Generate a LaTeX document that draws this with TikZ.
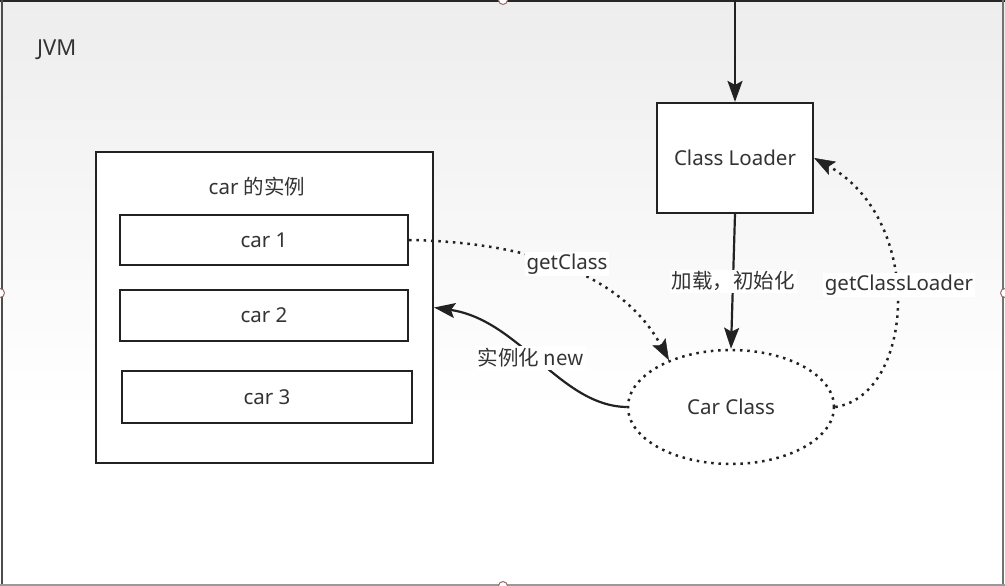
\documentclass[tikz,border=0pt]{standalone}
\usepackage{fontspec}
\setmainfont{Noto Sans}
\newfontfamily\cjk{Noto Sans CJK SC}
\usetikzlibrary{arrows.meta,shapes.geometric}
\definecolor{ink}{HTML}{222222}
\definecolor{txt}{HTML}{333333}
\definecolor{handlec}{HTML}{A06A6A}
\tikzset{
  box/.style={draw=ink, line width=2.2pt, fill=white, inner sep=0pt, text=txt, font=\fontsize{20.5}{23}\selectfont},
  lbl/.style={text=txt, font=\fontsize{20.5}{23}\selectfont, inner sep=2pt},
  dotline/.style={draw=ink, line width=2.5pt, dash pattern=on 2.5pt off 4.8pt},
  solidarrow/.style={draw=ink, line width=2.2pt, -{Stealth[length=21pt,width=15pt,inset=4pt]}},
  dotarrow/.style={dotline, -{Stealth[length=21pt,width=15pt,inset=4pt,line width=0.5pt,sep=0pt]}},
  handle/.style={draw=handlec, fill=white, line width=1pt}
}
\begin{document}
\begin{tikzpicture}[x=1pt,y=-1pt]
\useasboundingbox (0,0) rectangle (1005,586);
\fill[white] (0,0) rectangle (1005,586);
\foreach \i in {0,...,39} {
  \pgfmathsetmacro\p{7*(1-\i/40)}
  \fill[black!\p] (0,\i*10) rectangle (1005,\i*10+10.5);
}
% frame
\draw[black!85, line width=2.2pt] (0,1) -- (1005,1);
\draw[black!70, line width=2pt] (1.5,0) -- (1.5,586);
\draw[black!55, line width=2pt] (1003,0) -- (1003,586);
\draw[black!40, line width=2pt] (0,585) -- (1005,585);
% handles
\draw[handle] (503,0) circle (4.5);
\draw[handle] (0,293) circle (4.5);
\draw[handle] (1005,293) circle (4.5);
\draw[handle] (503,586) circle (4.5);
% JVM label
\node[lbl, anchor=west, font=\fontsize{22}{24}\selectfont] (jvm) at (35,50) {JVM};
% instances
\node[box, minimum width=337, minimum height=311] (outer) at (264.5,307.5) {};
\node[lbl] (title) at (257,187) {car \cjk{的实例}};
\node[box, minimum width=288, minimum height=50] (c1) at (264,240) {car 1};
\node[box, minimum width=288, minimum height=51] (c2) at (264,315.5) {car 2};
\node[box, minimum width=290, minimum height=52] (c3) at (267,397) {car 3};
% class loader
\node[box, minimum width=156, minimum height=110] (cl) at (735,158) {Class Loader};
% car class
\node[ellipse, dotline, fill=white, minimum width=206, minimum height=114, inner sep=0pt, text=txt, font=\fontsize{20.5}{23}\selectfont] (cc) at (731,407) {Car Class};
% connectors
\coordinate (topin) at (735,0);
\draw[solidarrow] (topin) -- (cl.north);
\draw[solidarrow] (cl.south) -- node[lbl, fill=white, pos=0.5] (loadlbl) {\cjk{加载，初始化}} (cc.north);
\draw[dotarrow] (c1.east) .. controls (520,242) and (620,270) .. (cc.143);
\node[lbl, fill=white] (gclbl) at (567,264) {getClass};
\draw[solidarrow] (cc.west) .. controls (560,406) and (520,320) .. (outer.east);
\node[lbl, fill=white] (newlbl) at (531,358) {\cjk{实例化} new};
\draw[dotarrow] (cc.east) .. controls (915,395) and (925,220) .. (cl.east);
\node[lbl, fill=white] (gcllbl) at (899,285) {getClassLoader};
\end{tikzpicture}
\end{document}
